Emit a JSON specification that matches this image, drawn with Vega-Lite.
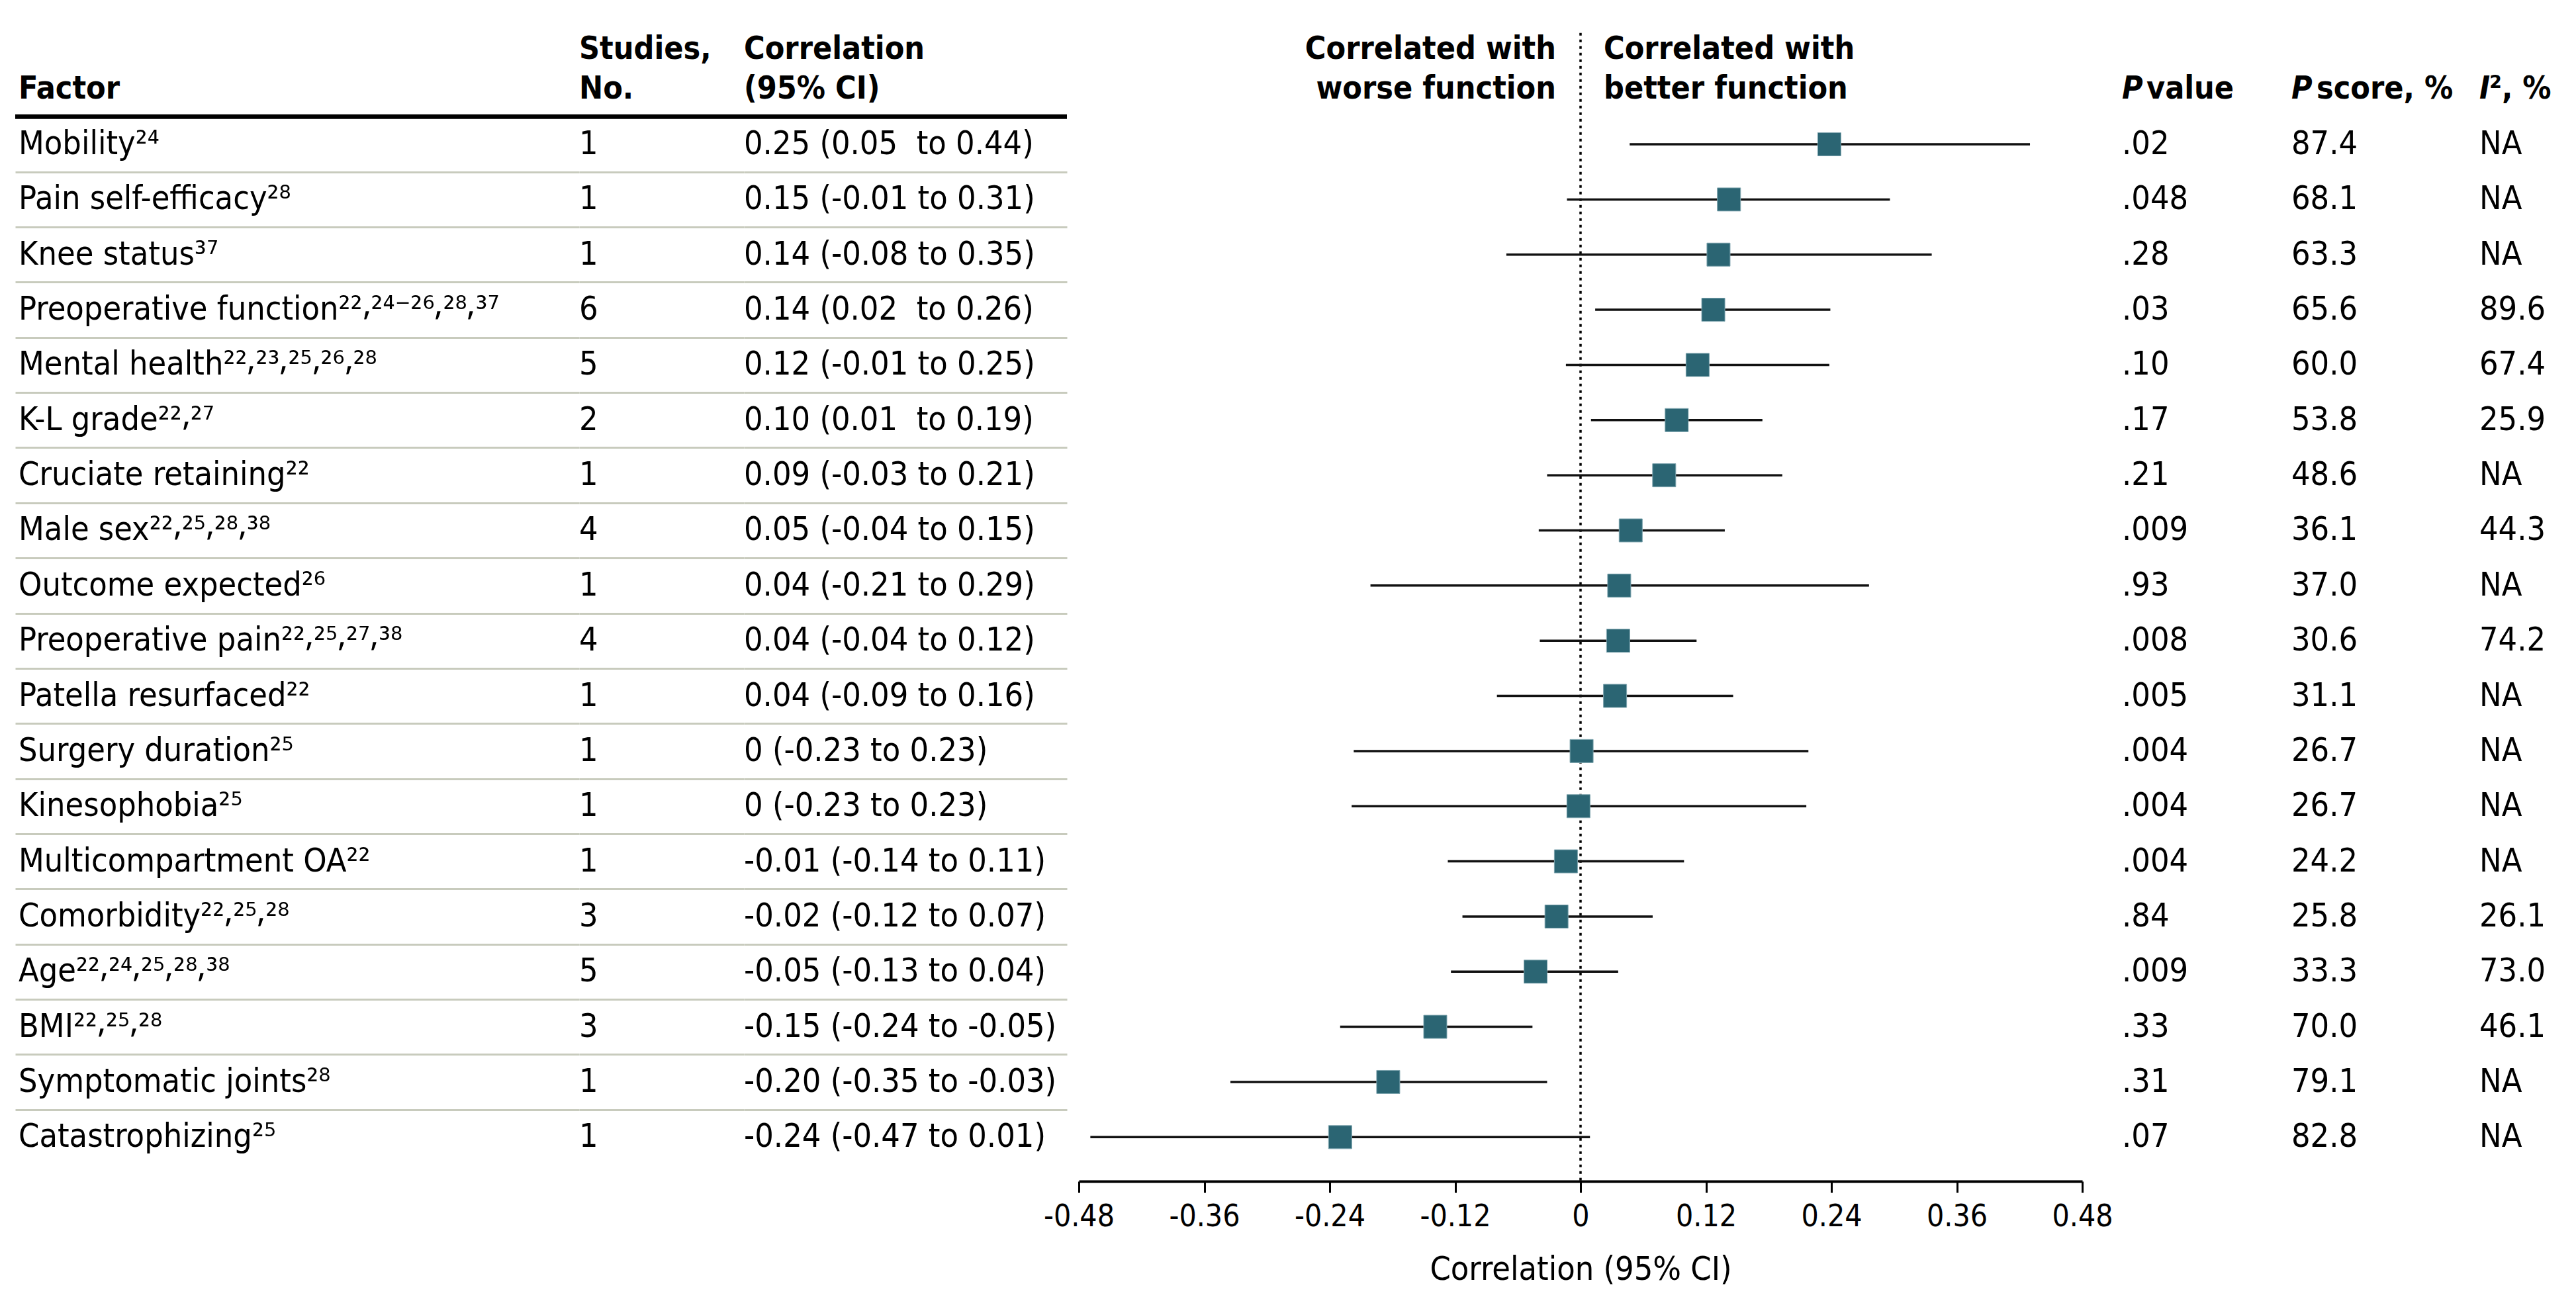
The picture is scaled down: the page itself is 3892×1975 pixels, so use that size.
{
  "$schema": "https://vega.github.io/schema/vega-lite/v6.json",
  "padding": {"left": 19, "top": 0, "right": 0, "bottom": 190},
  "bounds": "flush",
  "spacing": 0,
  "datasets": {
    "rows": [
      {"r": 1, "factor": "Mobility²⁴", "n": "1", "corr": "0.25 (0.05\u00a0 to 0.44)", "p": ".02", "ps": "87.4", "i2": "NA", "est": 0.238, "lo": 0.047, "hi": 0.43},
      {"r": 2, "factor": "Pain self-efficacy²⁸", "n": "1", "corr": "0.15 (-0.01 to 0.31)", "p": ".048", "ps": "68.1", "i2": "NA", "est": 0.142, "lo": -0.013, "hi": 0.296},
      {"r": 3, "factor": "Knee status³⁷", "n": "1", "corr": "0.14 (-0.08 to 0.35)", "p": ".28", "ps": "63.3", "i2": "NA", "est": 0.132, "lo": -0.071, "hi": 0.336},
      {"r": 4, "factor": "Preoperative function²²⸴²⁴⁻²⁶⸴²⁸⸴³⁷", "n": "6", "corr": "0.14 (0.02\u00a0 to 0.26)", "p": ".03", "ps": "65.6", "i2": "89.6", "est": 0.127, "lo": 0.014, "hi": 0.239},
      {"r": 5, "factor": "Mental health²²⸴²³⸴²⁵⸴²⁶⸴²⁸", "n": "5", "corr": "0.12 (-0.01 to 0.25)", "p": ".10", "ps": "60.0", "i2": "67.4", "est": 0.112, "lo": -0.014, "hi": 0.238},
      {"r": 6, "factor": "K-L grade²²⸴²⁷", "n": "2", "corr": "0.10 (0.01\u00a0 to 0.19)", "p": ".17", "ps": "53.8", "i2": "25.9", "est": 0.092, "lo": 0.01, "hi": 0.174},
      {"r": 7, "factor": "Cruciate retaining²²", "n": "1", "corr": "0.09 (-0.03 to 0.21)", "p": ".21", "ps": "48.6", "i2": "NA", "est": 0.08, "lo": -0.032, "hi": 0.193},
      {"r": 8, "factor": "Male sex²²⸴²⁵⸴²⁸⸴³⁸", "n": "4", "corr": "0.05 (-0.04 to 0.15)", "p": ".009", "ps": "36.1", "i2": "44.3", "est": 0.048, "lo": -0.04, "hi": 0.138},
      {"r": 9, "factor": "Outcome expected²⁶", "n": "1", "corr": "0.04 (-0.21 to 0.29)", "p": ".93", "ps": "37.0", "i2": "NA", "est": 0.037, "lo": -0.201, "hi": 0.276},
      {"r": 10, "factor": "Preoperative pain²²⸴²⁵⸴²⁷⸴³⁸", "n": "4", "corr": "0.04 (-0.04 to 0.12)", "p": ".008", "ps": "30.6", "i2": "74.2", "est": 0.036, "lo": -0.039, "hi": 0.111},
      {"r": 11, "factor": "Patella resurfaced²²", "n": "1", "corr": "0.04 (-0.09 to 0.16)", "p": ".005", "ps": "31.1", "i2": "NA", "est": 0.033, "lo": -0.08, "hi": 0.146},
      {"r": 12, "factor": "Surgery duration²⁵", "n": "1", "corr": "0 (-0.23 to 0.23)", "p": ".004", "ps": "26.7", "i2": "NA", "est": 0.001, "lo": -0.217, "hi": 0.218},
      {"r": 13, "factor": "Kinesophobia²⁵", "n": "1", "corr": "0 (-0.23 to 0.23)", "p": ".004", "ps": "26.7", "i2": "NA", "est": -0.002, "lo": -0.219, "hi": 0.216},
      {"r": 14, "factor": "Multicompartment OA²²", "n": "1", "corr": "-0.01 (-0.14 to 0.11)", "p": ".004", "ps": "24.2", "i2": "NA", "est": -0.014, "lo": -0.127, "hi": 0.099},
      {"r": 15, "factor": "Comorbidity²²⸴²⁵⸴²⁸", "n": "3", "corr": "-0.02 (-0.12 to 0.07)", "p": ".84", "ps": "25.8", "i2": "26.1", "est": -0.023, "lo": -0.113, "hi": 0.069},
      {"r": 16, "factor": "Age²²⸴²⁴⸴²⁵⸴²⁸⸴³⁸", "n": "5", "corr": "-0.05 (-0.13 to 0.04)", "p": ".009", "ps": "33.3", "i2": "73.0", "est": -0.043, "lo": -0.124, "hi": 0.036},
      {"r": 17, "factor": "BMI²²⸴²⁵⸴²⁸", "n": "3", "corr": "-0.15 (-0.24 to -0.05)", "p": ".33", "ps": "70.0", "i2": "46.1", "est": -0.139, "lo": -0.23, "hi": -0.046},
      {"r": 18, "factor": "Symptomatic joints²⁸", "n": "1", "corr": "-0.20 (-0.35 to -0.03)", "p": ".31", "ps": "79.1", "i2": "NA", "est": -0.184, "lo": -0.335, "hi": -0.032},
      {"r": 19, "factor": "Catastrophizing²⁵", "n": "1", "corr": "-0.24 (-0.47 to 0.01)", "p": ".07", "ps": "82.8", "i2": "NA", "est": -0.23, "lo": -0.469, "hi": 0.009}
    ]
  },
  "hconcat": [
    {
      "width": 852, "height": 1785,
      "layer": [
        {"data": {"name": "rows"}, "mark": {"type": "text", "align": "left", "baseline": "middle", "dx": 5, "fontSize": 50},
         "encoding": {
           "x": {"datum": 0, "type": "quantitative", "scale": {"domain": [0, 1]}, "axis": null},
           "y": {"field": "r", "type": "quantitative", "scale": {"domain": [-1.616, 19.8], "reverse": true, "nice": false, "zero": false},
                 "axis": {"values": [1.5, 2.5, 3.5, 4.5, 5.5, 6.5, 7.5, 8.5, 9.5, 10.5, 11.5, 12.5, 13.5, 14.5, 15.5, 16.5, 17.5, 18.5], "grid": true, "gridColor": "#c8cbbd", "gridWidth": 3, "labels": false, "ticks": false, "domain": false, "title": null}},
           "text": {"field": "factor"}}},
        {"data": {"values": [{}]}, "mark": {"type": "rule", "color": "black", "strokeWidth": 7},
         "encoding": {"y": {"datum": 0.5, "type": "quantitative"}}},
        {"data": {"values": [{}]}, "mark": {"type": "text", "align": "left", "baseline": "middle", "dx": 5, "fontWeight": "bold"},
         "encoding": {"x": {"datum": 0, "type": "quantitative"}, "y": {"datum": 0, "type": "quantitative"}, "text": {"value": "Factor"}}}
      ]
    },
    {
      "width": 249, "height": 1785,
      "layer": [
        {"data": {"name": "rows"}, "mark": {"type": "text", "align": "left", "baseline": "middle", "fontSize": 50},
         "encoding": {
           "x": {"datum": 0, "type": "quantitative", "scale": {"domain": [0, 1]}, "axis": null},
           "y": {"field": "r", "type": "quantitative", "scale": {"domain": [-1.616, 19.8], "reverse": true, "nice": false, "zero": false},
                 "axis": {"values": [1.5, 2.5, 3.5, 4.5, 5.5, 6.5, 7.5, 8.5, 9.5, 10.5, 11.5, 12.5, 13.5, 14.5, 15.5, 16.5, 17.5, 18.5], "grid": true, "gridColor": "#c8cbbd", "gridWidth": 3, "labels": false, "ticks": false, "domain": false, "title": null}},
           "text": {"field": "n"}}},
        {"data": {"values": [{}]}, "mark": {"type": "rule", "color": "black", "strokeWidth": 7},
         "encoding": {"y": {"datum": 0.5, "type": "quantitative"}}},
        {"data": {"values": [{}]}, "mark": {"type": "text", "align": "left", "baseline": "middle", "fontWeight": "bold"},
         "encoding": {"x": {"datum": 0, "type": "quantitative"}, "y": {"datum": -0.72, "type": "quantitative"}, "text": {"value": "Studies,"}}},
        {"data": {"values": [{}]}, "mark": {"type": "text", "align": "left", "baseline": "middle", "fontWeight": "bold"},
         "encoding": {"x": {"datum": 0, "type": "quantitative"}, "y": {"datum": 0, "type": "quantitative"}, "text": {"value": "No."}}}
      ]
    },
    {
      "width": 488, "height": 1785,
      "layer": [
        {"data": {"name": "rows"}, "mark": {"type": "text", "align": "left", "baseline": "middle", "fontSize": 50},
         "encoding": {
           "x": {"datum": 0, "type": "quantitative", "scale": {"domain": [0, 1]}, "axis": null},
           "y": {"field": "r", "type": "quantitative", "scale": {"domain": [-1.616, 19.8], "reverse": true, "nice": false, "zero": false},
                 "axis": {"values": [1.5, 2.5, 3.5, 4.5, 5.5, 6.5, 7.5, 8.5, 9.5, 10.5, 11.5, 12.5, 13.5, 14.5, 15.5, 16.5, 17.5, 18.5], "grid": true, "gridColor": "#c8cbbd", "gridWidth": 3, "labels": false, "ticks": false, "domain": false, "title": null}},
           "text": {"field": "corr"}}},
        {"data": {"values": [{}]}, "mark": {"type": "rule", "color": "black", "strokeWidth": 7},
         "encoding": {"y": {"datum": 0.5, "type": "quantitative"}}},
        {"data": {"values": [{}]}, "mark": {"type": "text", "align": "left", "baseline": "middle", "fontWeight": "bold"},
         "encoding": {"x": {"datum": 0, "type": "quantitative"}, "y": {"datum": -0.72, "type": "quantitative"}, "text": {"value": "Correlation"}}},
        {"data": {"values": [{}]}, "mark": {"type": "text", "align": "left", "baseline": "middle", "fontWeight": "bold"},
         "encoding": {"x": {"datum": 0, "type": "quantitative"}, "y": {"datum": 0, "type": "quantitative"}, "text": {"value": "(95% CI)"}}}
      ]
    },
    {
      "width": 18, "height": 1785,
      "data": {"values": [{}]},
      "mark": {"type": "point", "opacity": 0},
      "encoding": {}
    },
    {
      "width": 1516, "height": 1785,
      "layer": [
        {"data": {"values": [{}]}, "mark": {"type": "rule", "color": "black", "strokeWidth": 3.5, "strokeDash": [4, 6]},
         "encoding": {
           "x": {"datum": 0, "type": "quantitative", "scale": {"domain": [-0.48, 0.48], "nice": false, "zero": false},
                 "axis": {"orient": "bottom", "values": [-0.48, -0.36, -0.24, -0.12, 0, 0.12, 0.24, 0.36, 0.48],
                          "labelExpr": "datum.value == 0 ? '0' : (datum.value < 0 ? '-' : '') + format(abs(datum.value), '.2f')",
                          "labelFontSize": 46, "labelColor": "black", "labelPadding": 14, "labelFlush": false, "labelOverlap": false,
                          "tickSize": 17, "tickWidth": 3, "tickColor": "black", "domainColor": "black", "domainWidth": 4, "grid": false,
                          "title": "Correlation (95% CI)", "titleFontSize": 50, "titleFontWeight": "normal", "titleColor": "black", "titlePadding": 32}},
           "y": {"datum": -1.02, "type": "quantitative", "scale": {"domain": [-1.616, 19.8], "reverse": true, "nice": false, "zero": false}, "axis": null},
           "y2": {"datum": 19.8}}},
        {"data": {"name": "rows"}, "mark": {"type": "rule", "color": "#111111", "strokeWidth": 3.5},
         "encoding": {"x": {"field": "lo", "type": "quantitative"}, "x2": {"field": "hi"}, "y": {"field": "r", "type": "quantitative"}}},
        {"data": {"name": "rows"}, "mark": {"type": "point", "shape": "square", "filled": true, "size": 1225, "color": "#2B6573", "opacity": 1, "stroke": "#7fa5af", "strokeWidth": 1},
         "encoding": {"x": {"field": "est", "type": "quantitative"}, "y": {"field": "r", "type": "quantitative"}}},
        {"data": {"values": [{}]}, "mark": {"type": "text", "align": "right", "baseline": "middle", "dx": -37, "fontWeight": "bold"},
         "encoding": {"x": {"datum": 0, "type": "quantitative"}, "y": {"datum": -0.72, "type": "quantitative"}, "text": {"value": "Correlated with"}}},
        {"data": {"values": [{}]}, "mark": {"type": "text", "align": "right", "baseline": "middle", "dx": -37, "fontWeight": "bold"},
         "encoding": {"x": {"datum": 0, "type": "quantitative"}, "y": {"datum": 0, "type": "quantitative"}, "text": {"value": "worse function"}}},
        {"data": {"values": [{}]}, "mark": {"type": "text", "align": "left", "baseline": "middle", "dx": 35, "fontWeight": "bold"},
         "encoding": {"x": {"datum": 0, "type": "quantitative"}, "y": {"datum": -0.72, "type": "quantitative"}, "text": {"value": "Correlated with"}}},
        {"data": {"values": [{}]}, "mark": {"type": "text", "align": "left", "baseline": "middle", "dx": 35, "fontWeight": "bold"},
         "encoding": {"x": {"datum": 0, "type": "quantitative"}, "y": {"datum": 0, "type": "quantitative"}, "text": {"value": "better function"}}}
      ]
    },
    {
      "width": 316, "height": 1785,
      "layer": [
        {"data": {"name": "rows"}, "mark": {"type": "text", "align": "left", "baseline": "middle", "dx": 60, "fontSize": 50},
         "encoding": {
           "x": {"datum": 0, "type": "quantitative", "scale": {"domain": [0, 1]}, "axis": null},
           "y": {"field": "r", "type": "quantitative", "scale": {"domain": [-1.616, 19.8], "reverse": true, "nice": false, "zero": false}, "axis": null},
           "text": {"field": "p"}}},
        {"data": {"values": [{}]}, "mark": {"type": "text", "align": "left", "baseline": "middle", "dx": 60, "fontWeight": "bold", "fontStyle": "italic"},
         "encoding": {"x": {"datum": 0, "type": "quantitative"}, "y": {"datum": 0, "type": "quantitative"}, "text": {"value": "P"}}},
        {"data": {"values": [{}]}, "mark": {"type": "text", "align": "left", "baseline": "middle", "dx": 97, "fontWeight": "bold"},
         "encoding": {"x": {"datum": 0, "type": "quantitative"}, "y": {"datum": 0, "type": "quantitative"}, "text": {"value": "value"}}}
      ]
    },
    {
      "width": 284, "height": 1785,
      "layer": [
        {"data": {"name": "rows"}, "mark": {"type": "text", "align": "left", "baseline": "middle", "fontSize": 50},
         "encoding": {
           "x": {"datum": 0, "type": "quantitative", "scale": {"domain": [0, 1]}, "axis": null},
           "y": {"field": "r", "type": "quantitative", "scale": {"domain": [-1.616, 19.8], "reverse": true, "nice": false, "zero": false}, "axis": null},
           "text": {"field": "ps"}}},
        {"data": {"values": [{}]}, "mark": {"type": "text", "align": "left", "baseline": "middle", "fontWeight": "bold", "fontStyle": "italic"},
         "encoding": {"x": {"datum": 0, "type": "quantitative"}, "y": {"datum": 0, "type": "quantitative"}, "text": {"value": "P"}}},
        {"data": {"values": [{}]}, "mark": {"type": "text", "align": "left", "baseline": "middle", "dx": 38, "fontWeight": "bold"},
         "encoding": {"x": {"datum": 0, "type": "quantitative"}, "y": {"datum": 0, "type": "quantitative"}, "text": {"value": "score, %"}}}
      ]
    },
    {
      "width": 150, "height": 1785,
      "layer": [
        {"data": {"name": "rows"}, "mark": {"type": "text", "align": "left", "baseline": "middle", "fontSize": 50},
         "encoding": {
           "x": {"datum": 0, "type": "quantitative", "scale": {"domain": [0, 1]}, "axis": null},
           "y": {"field": "r", "type": "quantitative", "scale": {"domain": [-1.616, 19.8], "reverse": true, "nice": false, "zero": false}, "axis": null},
           "text": {"field": "i2"}}},
        {"data": {"values": [{}]}, "mark": {"type": "text", "align": "left", "baseline": "middle", "fontWeight": "bold", "fontStyle": "italic"},
         "encoding": {"x": {"datum": 0, "type": "quantitative"}, "y": {"datum": 0, "type": "quantitative"}, "text": {"value": "I"}}},
        {"data": {"values": [{}]}, "mark": {"type": "text", "align": "left", "baseline": "middle", "dx": 15, "fontWeight": "bold"},
         "encoding": {"x": {"datum": 0, "type": "quantitative"}, "y": {"datum": 0, "type": "quantitative"}, "text": {"value": "², %"}}}
      ]
    }
  ],
  "config": {
    "view": {"stroke": null},
    "font": "DejaVu Sans Condensed, Liberation Sans Narrow, sans-serif",
    "text": {"fontSize": 48, "color": "black", "font": "DejaVu Sans Condensed, Liberation Sans Narrow, sans-serif"},
    "axis": {"labelFont": "DejaVu Sans Condensed, Liberation Sans Narrow, sans-serif", "titleFont": "DejaVu Sans Condensed, Liberation Sans Narrow, sans-serif"}
  }
}
